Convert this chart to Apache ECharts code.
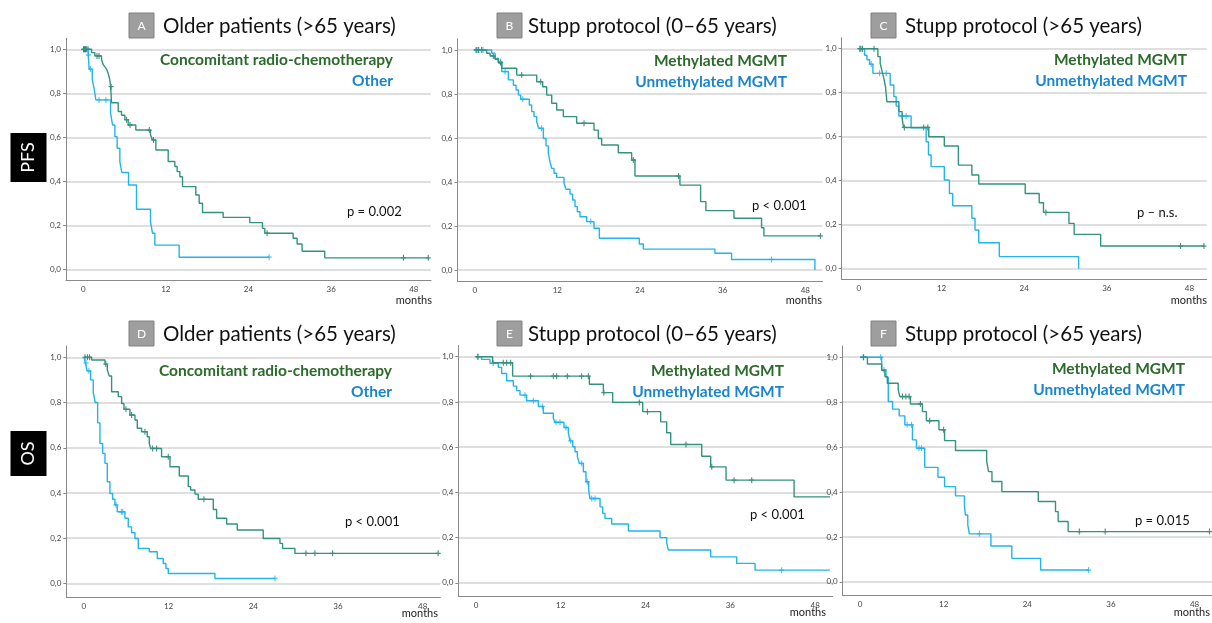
<!DOCTYPE html>
<html>
<head>
<meta charset="utf-8">
<script src="https://cdn.jsdelivr.net/npm/echarts@6/dist/echarts.min.js"></script>
<style>html,body{margin:0;padding:0;background:#fff}#c{width:1212px;height:623px}</style>
</head>
<body>
<div id="c"></div>
<script>
// ---------- axis ticks ----------
const yTicks = [0, 0.2, 0.4, 0.6, 0.8, 1.0];
const xTicks = [0, 12, 24, 36, 48];

// ---------- panel texts ----------
const panelLetters = ['A', 'B', 'C', 'D', 'E', 'F'];
const panelTitles = ['Older patients (>65 years)', 'Stupp protocol (0\u201365 years)', 'Stupp protocol (>65 years)',
                     'Older patients (>65 years)', 'Stupp protocol (0\u201365 years)', 'Stupp protocol (>65 years)'];
const groupGreen = ['Concomitant radio-chemotherapy', 'Methylated MGMT', 'Methylated MGMT',
                    'Concomitant radio-chemotherapy', 'Methylated MGMT', 'Methylated MGMT'];
const groupBlue = ['Other', 'Unmethylated MGMT', 'Unmethylated MGMT', 'Other', 'Unmethylated MGMT', 'Unmethylated MGMT'];
const pValues = ['p = 0.002', 'p < 0.001', 'p \u2013 n.s.', 'p < 0.001', 'p < 0.001', 'p = 0.015'];
const rowLabels = ['PFS', 'OS'];

// ---------- Panel A (PFS, older) ----------
const aGreenT = [1.21, 1.69, 2.66, 2.9, 3.14, 3.39, 3.63, 3.87, 3.98, 4.11, 5.08, 5.56, 6.05, 6.53, 7.64, 9.77, 10.06, 10.55, 12.34, 13.3, 13.64, 14.03, 14.42, 16.35, 16.84, 17.32, 20.32, 24.19, 26.03, 26.37, 30.48, 31.06, 31.78, 35.07];
const aGreenS = [0.985, 0.97, 0.955, 0.93, 0.92, 0.91, 0.89, 0.86, 0.83, 0.757, 0.717, 0.70, 0.68, 0.656, 0.633, 0.61, 0.588, 0.542, 0.49, 0.467, 0.444, 0.421, 0.376, 0.338, 0.30, 0.258, 0.236, 0.212, 0.186, 0.164, 0.141, 0.115, 0.082, 0.052];
const aGreenC = [0.05, 0.2, 0.35, 0.5, 0.7, 2.0, 2.3, 4.05, 6.3, 6.8, 9.6, 10.2, 26.7, 46.5, 50.1];
const aBlueT = [0.73, 0.87, 1.31, 1.6, 1.84, 3.97, 4.26, 4.6, 4.93, 5.32, 5.6, 6.58, 7.74, 9.77, 10.06, 10.4, 13.93];
const aBlueS = [0.974, 0.91, 0.864, 0.818, 0.77, 0.71, 0.656, 0.603, 0.55, 0.49, 0.44, 0.383, 0.273, 0.217, 0.164, 0.11, 0.055];
const aBlueC = [0.1, 0.3, 0.75, 1.05, 2.3, 3.3, 27.0];

// ---------- Panel B (PFS, Stupp 0-65) ----------
const bGreenT = [1.74, 2.23, 2.95, 3.43, 3.92, 6.1, 9.0, 9.87, 10.45, 11.18, 11.9, 12.87, 14.8, 17.32, 17.95, 18.43, 20.85, 22.79, 23.27, 29.8, 32.8, 33.57, 37.64, 41.65, 41.99];
const bGreenS = [0.985, 0.973, 0.958, 0.942, 0.917, 0.886, 0.856, 0.833, 0.795, 0.758, 0.727, 0.697, 0.667, 0.636, 0.598, 0.568, 0.533, 0.5, 0.427, 0.386, 0.311, 0.27, 0.235, 0.192, 0.155];
const bGreenC = [0.2, 0.5, 1.0, 2.7, 3.77, 6.82, 9.58, 15.87, 23.03, 29.6, 50.2];
const bBlueT = [2.47, 2.95, 3.43, 3.92, 4.89, 5.61, 6.0, 6.34, 6.68, 7.93, 8.27, 8.61, 9.0, 9.29, 9.97, 10.35, 10.69, 10.93, 11.18, 11.51, 11.9, 12.97, 13.26, 13.84, 14.22, 14.56, 14.9, 15.29, 16.26, 17.32, 18.1, 23.9, 24.48, 34.88, 37.3, 49.4];
const bBlueS = [0.985, 0.962, 0.947, 0.902, 0.864, 0.84, 0.818, 0.795, 0.776, 0.75, 0.72, 0.697, 0.674, 0.644, 0.598, 0.564, 0.53, 0.492, 0.462, 0.44, 0.421, 0.394, 0.367, 0.345, 0.318, 0.288, 0.265, 0.242, 0.22, 0.19, 0.144, 0.118, 0.095, 0.076, 0.048, 0.0];
const bBlueC = [0.3, 0.6, 1.2, 3.7, 4.4, 6.97, 9.7, 16.84, 43.1];

// ---------- Panel C (PFS, Stupp >65) ----------
const cGreenT = [2.75, 3.09, 3.38, 3.62, 3.86, 4.06, 5.8, 6.28, 6.47, 10.14, 12.4, 14.44, 16.4, 17.4, 24.15, 26.18, 26.8, 30.5, 31.26, 35.1];
const cGreenS = [0.964, 0.933, 0.895, 0.865, 0.827, 0.759, 0.714, 0.683, 0.642, 0.6, 0.558, 0.471, 0.426, 0.385, 0.342, 0.3, 0.256, 0.206, 0.156, 0.103];
const cGreenC = [0.2, 0.5, 2.2, 6.6, 9.4, 10.0, 27.15, 46.7, 50.1];
const cBlueT = [0.82, 1.16, 1.55, 2.03, 4.54, 5.07, 5.41, 5.8, 7.58, 9.76, 10.1, 10.48, 12.4, 13.14, 13.62, 16.4, 16.86, 17.4, 20.39, 31.9];
const cBlueS = [0.97, 0.95, 0.93, 0.888, 0.835, 0.782, 0.739, 0.694, 0.64, 0.577, 0.517, 0.464, 0.403, 0.342, 0.286, 0.229, 0.176, 0.118, 0.055, 0.0];
const cBlueC = [0.1, 0.45, 1.79, 3.0, 3.96, 6.28, 6.86];

// ---------- Panel D (OS, older) ----------
const dGreenT = [1.09, 2.98, 3.31, 3.59, 3.92, 4.87, 5.34, 5.67, 6.52, 7.23, 7.56, 8.17, 8.97, 9.26, 9.45, 11.0, 12.19, 13.51, 14.79, 15.12, 15.73, 16.2, 18.33, 18.8, 20.22, 21.73, 25.41, 27.78, 28.15, 29.9];
const dGreenS = [0.988, 0.97, 0.944, 0.917, 0.848, 0.826, 0.796, 0.77, 0.745, 0.723, 0.686, 0.671, 0.649, 0.619, 0.597, 0.56, 0.516, 0.475, 0.428, 0.413, 0.395, 0.372, 0.327, 0.288, 0.263, 0.236, 0.199, 0.177, 0.155, 0.133];
const dGreenC = [0.15, 0.5, 0.8, 3.1, 5.95, 6.75, 8.64, 9.73, 10.3, 11.95, 17.0, 31.46, 32.73, 35.24, 50.2];
const dBlueT = [0.19, 0.47, 0.94, 1.32, 1.6, 1.94, 2.27, 2.65, 2.98, 3.31, 3.68, 4.06, 4.39, 4.72, 5.81, 6.28, 6.75, 7.23, 7.7, 9.26, 10.39, 11.24, 11.62, 11.95, 18.56];
const dBlueS = [0.975, 0.94, 0.9, 0.845, 0.8, 0.71, 0.619, 0.575, 0.531, 0.45, 0.398, 0.372, 0.347, 0.317, 0.288, 0.25, 0.224, 0.199, 0.155, 0.14, 0.11, 0.088, 0.066, 0.044, 0.022];
const dBlueC = [0.3, 0.7, 4.55, 5.3, 5.5, 27.07];

// ---------- Panel E (OS, Stupp 0-65) ----------
const eGreenT = [2.36, 5.19, 16.05, 18.03, 19.35, 23.6, 26.14, 26.99, 27.56, 31.95, 33.22, 35.39, 45.02];
const eGreenS = [0.973, 0.914, 0.878, 0.841, 0.798, 0.757, 0.712, 0.664, 0.612, 0.56, 0.513, 0.454, 0.38];
const eGreenC = [0.3, 3.87, 4.34, 4.91, 7.74, 10.95, 11.42, 12.93, 14.96, 15.9, 18.1, 23.12, 24.26, 29.73, 33.37, 36.53, 39.03];
const eBlueT = [0.8, 1.98, 3.16, 3.63, 4.34, 5.29, 5.76, 6.23, 7.17, 8.83, 9.53, 10.95, 11.18, 12.46, 13.07, 13.31, 13.69, 14.02, 14.35, 14.63, 15.2, 15.57, 15.95, 16.14, 17.56, 17.93, 18.26, 19.21, 21.57, 26.05, 26.99, 27.23, 33.22, 36.9, 39.5];
const eBlueS = [0.988, 0.971, 0.953, 0.926, 0.894, 0.87, 0.85, 0.83, 0.805, 0.78, 0.75, 0.727, 0.71, 0.687, 0.664, 0.628, 0.602, 0.58, 0.558, 0.528, 0.491, 0.447, 0.41, 0.373, 0.336, 0.307, 0.285, 0.26, 0.229, 0.2, 0.177, 0.145, 0.115, 0.086, 0.056];
const eBlueC = [0.2, 2.45, 6.94, 8.12, 9.39, 11.33, 11.89, 12.74, 13.4, 14.96, 15.76, 16.38, 16.85, 43.27];

// ---------- Panel F (OS, Stupp >65) ----------
const fGreenT = [1.05, 3.09, 3.56, 3.9, 5.47, 5.7, 7.22, 8.94, 9.51, 11.31, 12.12, 13.69, 18.16, 18.44, 18.92, 20.34, 25.57, 28.04, 28.42, 29.85];
const fGreenS = [0.97, 0.941, 0.914, 0.884, 0.855, 0.825, 0.792, 0.758, 0.717, 0.677, 0.629, 0.585, 0.536, 0.491, 0.447, 0.402, 0.358, 0.313, 0.269, 0.224];
const fGreenC = [0.5, 6.08, 6.56, 7.03, 8.65, 9.98, 11.98, 31.46, 35.17, 50.14];
const fBlueT = [3.09, 3.71, 4.04, 4.66, 5.61, 6.42, 7.51, 8.08, 9.27, 11.17, 12.12, 13.69, 14.97, 15.11, 15.45, 15.68, 18.77, 21.77, 25.9];
const fBlueS = [0.944, 0.911, 0.803, 0.769, 0.739, 0.699, 0.632, 0.595, 0.51, 0.466, 0.424, 0.383, 0.338, 0.298, 0.254, 0.214, 0.16, 0.105, 0.053];
const fBlueC = [0.45, 2.95, 3.42, 6.75, 7.37, 8.46, 8.8, 17.11, 32.79];

// follow-up end of each curve (months)
const greenEnd = [50.1, 50.2, 50.1, 50.2, 50.1, 50.14];
const blueEnd = [27.0, 49.4, 31.9, 27.07, 50.1, 32.79];

// ---------- layout ----------
const GREEN = '#34937f', BLUE = '#22b4ec';
const GREEN_TXT = '#2b6a2b', BLUE_TXT = '#1a85cf';
const FONT = 'Lato, "Open Sans", sans-serif';
const panels = [
  {g: [66, 38.3, 365, 242], ymin: -0.05, tx: 129, ty: 13, titleX: 163, legR: 393, legY: 60, pX: 347, pY: 212, mX: 432, mY: 300},
  {g: [457.5, 39, 365, 242], ymin: -0.05, tx: 497, ty: 13, titleX: 528, legR: 787, legY: 61, pX: 752, pY: 206, mX: 822, mY: 300},
  {g: [841.7, 37.7, 365, 242], ymin: -0.05, tx: 871, ty: 13, titleX: 905, legR: 1187, legY: 60, pX: 1137, pY: 213, mX: 1207, mY: 300},
  {g: [66.3, 346, 374, 251], ymin: -0.06, tx: 129, ty: 321, titleX: 163, legR: 392, legY: 371, pX: 345, pY: 522, mX: 438, mY: 613},
  {g: [458.3, 345.4, 374.5, 251], ymin: -0.06, tx: 497, ty: 321, titleX: 528, legR: 784, legY: 371, pX: 750, pY: 515, mX: 826, mY: 612},
  {g: [842.7, 346, 372, 249.4], ymin: -0.06, tx: 871, ty: 321, titleX: 905, legR: 1185, legY: 369, pX: 1135, pY: 521, mX: 1210, mY: 612}
];
const curves = [
  [aGreenT, aGreenS, aGreenC, aBlueT, aBlueS, aBlueC],
  [bGreenT, bGreenS, bGreenC, bBlueT, bBlueS, bBlueC],
  [cGreenT, cGreenS, cGreenC, cBlueT, cBlueS, cBlueC],
  [dGreenT, dGreenS, dGreenC, dBlueT, dBlueS, dBlueC],
  [eGreenT, eGreenS, eGreenC, eBlueT, eBlueS, eBlueC],
  [fGreenT, fGreenS, fGreenC, fBlueT, fBlueS, fBlueC]
];

function survAt(T, S, t) {
  let s = 1;
  for (let i = 0; i < T.length; i++) if (T[i] <= t) s = S[i];
  return s;
}
function stepData(T, S, end) {
  const d = [[0, 1]];
  for (let i = 0; i < T.length; i++) d.push([T[i], S[i]]);
  d.push([end, S[S.length - 1]]);
  return d;
}
function censorData(T, S, C) { return C.map(t => [t, survAt(T, S, t)]); }

const CROSS = 'path://M5,0L5,10M1.5,5L8.5,5';
const grids = [], xAxes = [], yAxes = [], series = [], graphics = [];
panels.forEach((p, i) => {
  grids.push({left: p.g[0], top: p.g[1], width: p.g[2], height: p.g[3], containLabel: false});
  xAxes.push({
    type: 'value', gridIndex: i, min: -2.5, max: 50.5,
    axisLine: {show: true, onZero: false, lineStyle: {color: '#8a8a8a', width: 1}},
    axisTick: {show: false, customValues: xTicks},
    axisLabel: {customValues: xTicks, fontSize: 8, color: '#444', margin: 5, fontFamily: FONT},
    splitLine: {show: false}
  });
  yAxes.push({
    type: 'value', gridIndex: i, min: p.ymin, max: 1.05,
    axisLine: {show: true, onZero: false, lineStyle: {color: '#8a8a8a', width: 1}},
    axisTick: {show: true, customValues: yTicks, length: 3, lineStyle: {color: '#8a8a8a'}},
    axisLabel: {customValues: yTicks, fontSize: 8, color: '#444', margin: 5, fontFamily: FONT,
                formatter: v => v.toFixed(1).replace('.', ',')},
    splitLine: {show: true, lineStyle: {color: '#d4d4d4', width: 1.5}}
  });
  const [gT, gS, gC, bT, bS, bC] = curves[i];
  series.push({type: 'line', xAxisIndex: i, yAxisIndex: i, step: 'end', showSymbol: false, silent: true,
               data: stepData(bT, bS, blueEnd[i]), lineStyle: {color: BLUE, width: 1.4}, itemStyle: {color: BLUE}});
  series.push({type: 'scatter', xAxisIndex: i, yAxisIndex: i, symbol: CROSS, symbolSize: [5, 6], silent: true,
               data: censorData(bT, bS, bC), itemStyle: {color: BLUE, borderColor: BLUE, borderWidth: 1.2}});
  series.push({type: 'line', xAxisIndex: i, yAxisIndex: i, step: 'end', showSymbol: false, silent: true,
               data: stepData(gT, gS, greenEnd[i]), lineStyle: {color: GREEN, width: 1.4}, itemStyle: {color: GREEN}});
  series.push({type: 'scatter', xAxisIndex: i, yAxisIndex: i, symbol: CROSS, symbolSize: [5, 6], silent: true,
               data: censorData(gT, gS, gC), itemStyle: {color: GREEN, borderColor: '#1f6f5f', borderWidth: 1.2}});

  // title box + title
  graphics.push({type: 'rect', shape: {x: p.tx, y: p.ty, width: 25, height: 25},
                 style: {fill: '#9e9e9e', stroke: '#808080', lineWidth: 1}});
  graphics.push({type: 'text', x: p.tx + 12.5, y: p.ty + 13,
                 style: {text: panelLetters[i], fill: '#fff', font: '12px ' + FONT, align: 'center', verticalAlign: 'middle'}});
  graphics.push({type: 'text', x: p.titleX, y: p.ty + 13,
                 style: {text: panelTitles[i], fill: '#111', font: '20.5px ' + FONT, align: 'left', verticalAlign: 'middle'}});
  // group labels
  graphics.push({type: 'text', x: p.legR, y: p.legY,
                 style: {text: groupGreen[i], fill: GREEN_TXT, font: 'bold 15.5px ' + FONT, align: 'right', verticalAlign: 'middle'}});
  graphics.push({type: 'text', x: p.legR, y: p.legY + 21,
                 style: {text: groupBlue[i], fill: BLUE_TXT, font: 'bold 15.5px ' + FONT, align: 'right', verticalAlign: 'middle'}});
  // p value
  graphics.push({type: 'text', x: p.pX, y: p.pY,
                 style: {text: pValues[i], fill: '#111', font: '13px ' + FONT, align: 'left', verticalAlign: 'middle'}});
  // months
  graphics.push({type: 'text', x: p.mX, y: p.mY,
                 style: {text: 'months', fill: '#222', font: '11px ' + FONT, align: 'right', verticalAlign: 'middle'}});
});
// row labels
[[10.5, 133, 36, 49], [10.5, 431, 36, 45]].forEach((b, k) => {
  graphics.push({type: 'rect', shape: {x: b[0], y: b[1], width: b[2], height: b[3]}, style: {fill: '#000'}});
  graphics.push({type: 'text', x: b[0] + b[2] / 2, y: b[1] + b[3] / 2, rotation: Math.PI / 2,
                 style: {text: rowLabels[k], fill: '#fff', font: '18px ' + FONT, align: 'center', verticalAlign: 'middle'}});
});

const chart = echarts.init(document.getElementById('c'), null, {renderer: 'canvas'});
chart.setOption({
  animation: false,
  backgroundColor: '#fff',
  grid: grids, xAxis: xAxes, yAxis: yAxes, series: series,
  graphic: {elements: graphics}
});
</script>
</body>
</html>
